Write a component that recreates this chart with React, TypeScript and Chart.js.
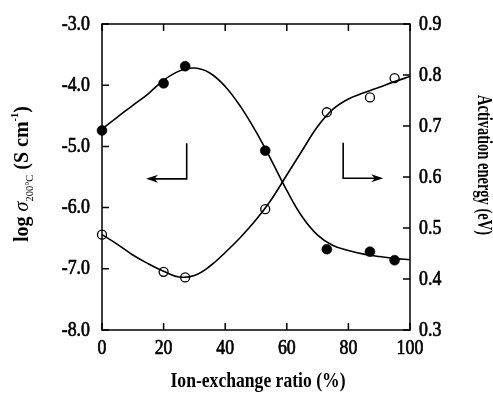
import React, { useEffect, useRef } from "react";
import { Chart, registerables } from "chart.js";
Chart.register(...registerables);

// Measured points
const ratioPoints = [0, 20, 27, 53, 73, 87, 95];
const logSigma = [-4.74, -3.97, -3.69, -5.07, -6.68, -6.72, -6.86];
const activationEnergy = [0.487, 0.414, 0.403, 0.537, 0.727, 0.756, 0.794];

// Fitted curves
const fitRatio = [0, 5, 10, 15, 20, 25, 30, 35, 40, 45, 50, 55, 60, 65, 70, 75, 80, 85, 90, 95, 100];
const logSigmaFit = [-4.72, -4.52, -4.33, -4.14, -3.92, -3.77, -3.72, -3.8, -4.02, -4.35, -4.76, -5.23, -5.72, -6.15, -6.45, -6.62, -6.7, -6.76, -6.8, -6.83, -6.85];
const energyFit = [0.487, 0.468, 0.447, 0.43, 0.415, 0.404, 0.407, 0.425, 0.452, 0.482, 0.516, 0.556, 0.604, 0.652, 0.699, 0.733, 0.753, 0.765, 0.776, 0.787, 0.797];

// Tick labels
const xTicks = [0, 20, 40, 60, 80, 100];
const leftTicks = [-8, -7, -6, -5, -4, -3];
const rightTicks = [0.3, 0.4, 0.5, 0.6, 0.7, 0.8, 0.9];

// Annotation arrows (data units: x ratio, y log sigma)
const leftArrow = { cornerX: 27.5, topY: -4.95, cornerY: -5.53, tipX: 14.3 };
const rightArrow = { cornerX: 78.3, topY: -4.94, cornerY: -5.52, tipX: 91.3 };

const xTitle = "Ion-exchange ratio (%)";
const rightTitle = "Activation energy (eV)";

const SERIF = "'Liberation Serif', 'Times New Roman', serif";

function drawScaled(ctx: CanvasRenderingContext2D, text: string, x: number, y: number, font: string, sx: number, align: CanvasTextAlign, baseline: CanvasTextBaseline = "alphabetic", stroke = 0) {
  ctx.save();
  ctx.font = font;
  ctx.translate(x, y);
  ctx.scale(sx, 1);
  ctx.textAlign = align;
  ctx.textBaseline = baseline;
  ctx.fillText(text, 0, 0);
  if (stroke > 0) {
    ctx.lineWidth = stroke;
    ctx.lineJoin = "round";
    ctx.strokeText(text, 0, 0);
  }
  ctx.restore();
}

const decorPlugin = {
  id: "decor",
  afterDraw(chart: any) {
    const ctx: CanvasRenderingContext2D = chart.ctx;
    const { left, right, top, bottom } = chart.chartArea;
    const xs = chart.scales.x, ys = chart.scales.y, y1 = chart.scales.y1;
    ctx.save();
    ctx.strokeStyle = "#000";
    ctx.fillStyle = "#000";
    ctx.lineWidth = 1.5;
    ctx.strokeRect(left, top, right - left, bottom - top);
    const TL = 7;
    ctx.beginPath();
    xTicks.forEach((v) => {
      const px = xs.getPixelForValue(v);
      ctx.moveTo(px, bottom); ctx.lineTo(px, bottom - TL);
      ctx.moveTo(px, top); ctx.lineTo(px, top + TL);
    });
    leftTicks.forEach((v) => {
      const py = ys.getPixelForValue(v);
      ctx.moveTo(left, py); ctx.lineTo(left + TL, py);
    });
    rightTicks.forEach((v) => {
      const py = y1.getPixelForValue(v);
      ctx.moveTo(right, py); ctx.lineTo(right - TL, py);
    });
    ctx.stroke();

    // tick labels
    const tickFont = `21px ${SERIF}`;
    const tsx = 0.85;
    leftTicks.forEach((v) => {
      drawScaled(ctx, v.toFixed(1), left - 12, ys.getPixelForValue(v), tickFont, tsx, "right", "middle", 0.7);
    });
    rightTicks.forEach((v) => {
      drawScaled(ctx, v.toFixed(1), right + 9, y1.getPixelForValue(v), tickFont, tsx, "left", "middle", 0.7);
    });
    xTicks.forEach((v) => {
      drawScaled(ctx, String(v), xs.getPixelForValue(v), bottom + 24, tickFont, tsx, "center", "alphabetic", 0.7);
    });

    // x title
    drawScaled(ctx, xTitle, (left + right) / 2 + 2, bottom + 57, `bold 22px ${SERIF}`, 0.8, "center", "alphabetic");

    // right title (rotated clockwise)
    ctx.save();
    ctx.translate(right + 68, (top + bottom) / 2 - 12);
    ctx.rotate(Math.PI / 2);
    ctx.font = `bold 21px ${SERIF}`;
    ctx.textAlign = "center";
    ctx.textBaseline = "alphabetic";
    const rw = ctx.measureText(rightTitle).width;
    ctx.scale(140 / rw, 1);
    ctx.fillText(rightTitle, 0, 0);
    ctx.restore();

    // left title (rotated counter-clockwise) with sub/superscripts
    const segs = [
      { t: "log ", f: `bold 21px ${SERIF}`, dy: 0 },
      { t: "\u03c3", f: `italic 21px ${SERIF}`, dy: 0 },
      { t: "200\u00b0C", f: `11px ${SERIF}`, dy: 5 },
      { t: " (S cm", f: `bold 21px ${SERIF}`, dy: 0 },
      { t: "-1", f: `bold 11px ${SERIF}`, dy: -10 },
      { t: ")", f: `bold 21px ${SERIF}`, dy: 0 },
    ];
    let total = 0;
    const widths = segs.map((s) => { ctx.font = s.f; const w = ctx.measureText(s.t).width; total += w; return w; });
    const target = 136;
    ctx.save();
    ctx.translate(28, (top + bottom) / 2 - 3);
    ctx.rotate(-Math.PI / 2);
    ctx.scale(target / total, 1);
    ctx.textAlign = "left";
    ctx.textBaseline = "alphabetic";
    let cx = -total / 2;
    segs.forEach((s, i) => {
      ctx.font = s.f;
      ctx.fillText(s.t, cx, s.dy);
      cx += widths[i];
    });
    ctx.restore();

    // arrows
    const drawArrow = (a: any) => {
      const cxp = xs.getPixelForValue(a.cornerX);
      const typ = ys.getPixelForValue(a.topY);
      const cyp = ys.getPixelForValue(a.cornerY);
      const tip = xs.getPixelForValue(a.tipX);
      const dir = tip < cxp ? -1 : 1;
      const head = 12;
      ctx.lineWidth = 1.6;
      ctx.beginPath();
      ctx.moveTo(cxp, typ);
      ctx.lineTo(cxp, cyp);
      ctx.lineTo(tip - dir * head * 0.6, cyp);
      ctx.stroke();
      ctx.beginPath();
      ctx.moveTo(tip, cyp);
      ctx.lineTo(tip - dir * head, cyp - 4);
      ctx.lineTo(tip - dir * head * 0.7, cyp);
      ctx.lineTo(tip - dir * head, cyp + 4);
      ctx.closePath();
      ctx.fill();
    };
    drawArrow(leftArrow);
    drawArrow(rightArrow);
    ctx.restore();
  },
};

export default function App() {
  const ref = useRef<HTMLCanvasElement | null>(null);
  useEffect(() => {
    if (!ref.current) return;
    const chart = new Chart(ref.current, {
      type: "line",
      data: {
        datasets: [
          {
            label: "log sigma",
            data: ratioPoints.map((x, i) => ({ x, y: logSigma[i] })),
            yAxisID: "y",
            showLine: false,
            pointRadius: 5,
            pointBackgroundColor: "#000",
            pointBorderColor: "#000",
            pointBorderWidth: 0.5,
            clip: false,
          },
          {
            label: "Ea",
            data: ratioPoints.map((x, i) => ({ x, y: activationEnergy[i] })),
            yAxisID: "y1",
            showLine: false,
            pointRadius: 4.5,
            pointBackgroundColor: "rgba(255,255,255,0)",
            pointBorderColor: "#000",
            pointBorderWidth: 1.3,
            clip: false,
          },
          {
            label: "log sigma fit",
            data: fitRatio.map((x, i) => ({ x, y: logSigmaFit[i] })),
            yAxisID: "y",
            borderColor: "#000",
            borderWidth: 1.6,
            pointRadius: 0,
            tension: 0.4,
            fill: false,
          },
          {
            label: "Ea fit",
            data: fitRatio.map((x, i) => ({ x, y: energyFit[i] })),
            yAxisID: "y1",
            borderColor: "#000",
            borderWidth: 1.6,
            pointRadius: 0,
            tension: 0.4,
            fill: false,
          },
        ],
      },
      options: {
        responsive: false,
        animation: false,
        layout: { padding: { top: 24, left: 0, right: 0, bottom: 0 } },
        plugins: { legend: { display: false }, tooltip: { enabled: false } },
        events: [],
        scales: {
          x: {
            type: "linear",
            min: 0,
            max: 100,
            grid: { display: false, drawTicks: false },
            border: { display: false },
            ticks: { display: false },
            afterBuildTicks: (s: any) => { s.ticks = xTicks.map((v) => ({ value: v })); },
            afterFit: (s: any) => { s.height = 64; },
          },
          y: {
            type: "linear",
            position: "left",
            min: -8,
            max: -3,
            grid: { display: false, drawTicks: false },
            border: { display: false },
            ticks: { display: false },
            afterBuildTicks: (s: any) => { s.ticks = leftTicks.map((v) => ({ value: v })); },
            afterFit: (s: any) => { s.width = 102; },
          },
          y1: {
            type: "linear",
            position: "right",
            min: 0.3,
            max: 0.9,
            grid: { display: false, drawTicks: false },
            border: { display: false },
            ticks: { display: false },
            afterBuildTicks: (s: any) => { s.ticks = rightTicks.map((v) => ({ value: v })); },
            afterFit: (s: any) => { s.width = 83; },
          },
        },
      } as any,
      plugins: [decorPlugin],
    });
    return () => chart.destroy();
  }, []);
  return (
    <div style={{ position: "absolute", left: 0, top: 0, width: 493, height: 394, background: "#fff" }}>
      <canvas ref={ref} width={493} height={394} style={{ width: 493, height: 394, display: "block" }} />
    </div>
  );
}
